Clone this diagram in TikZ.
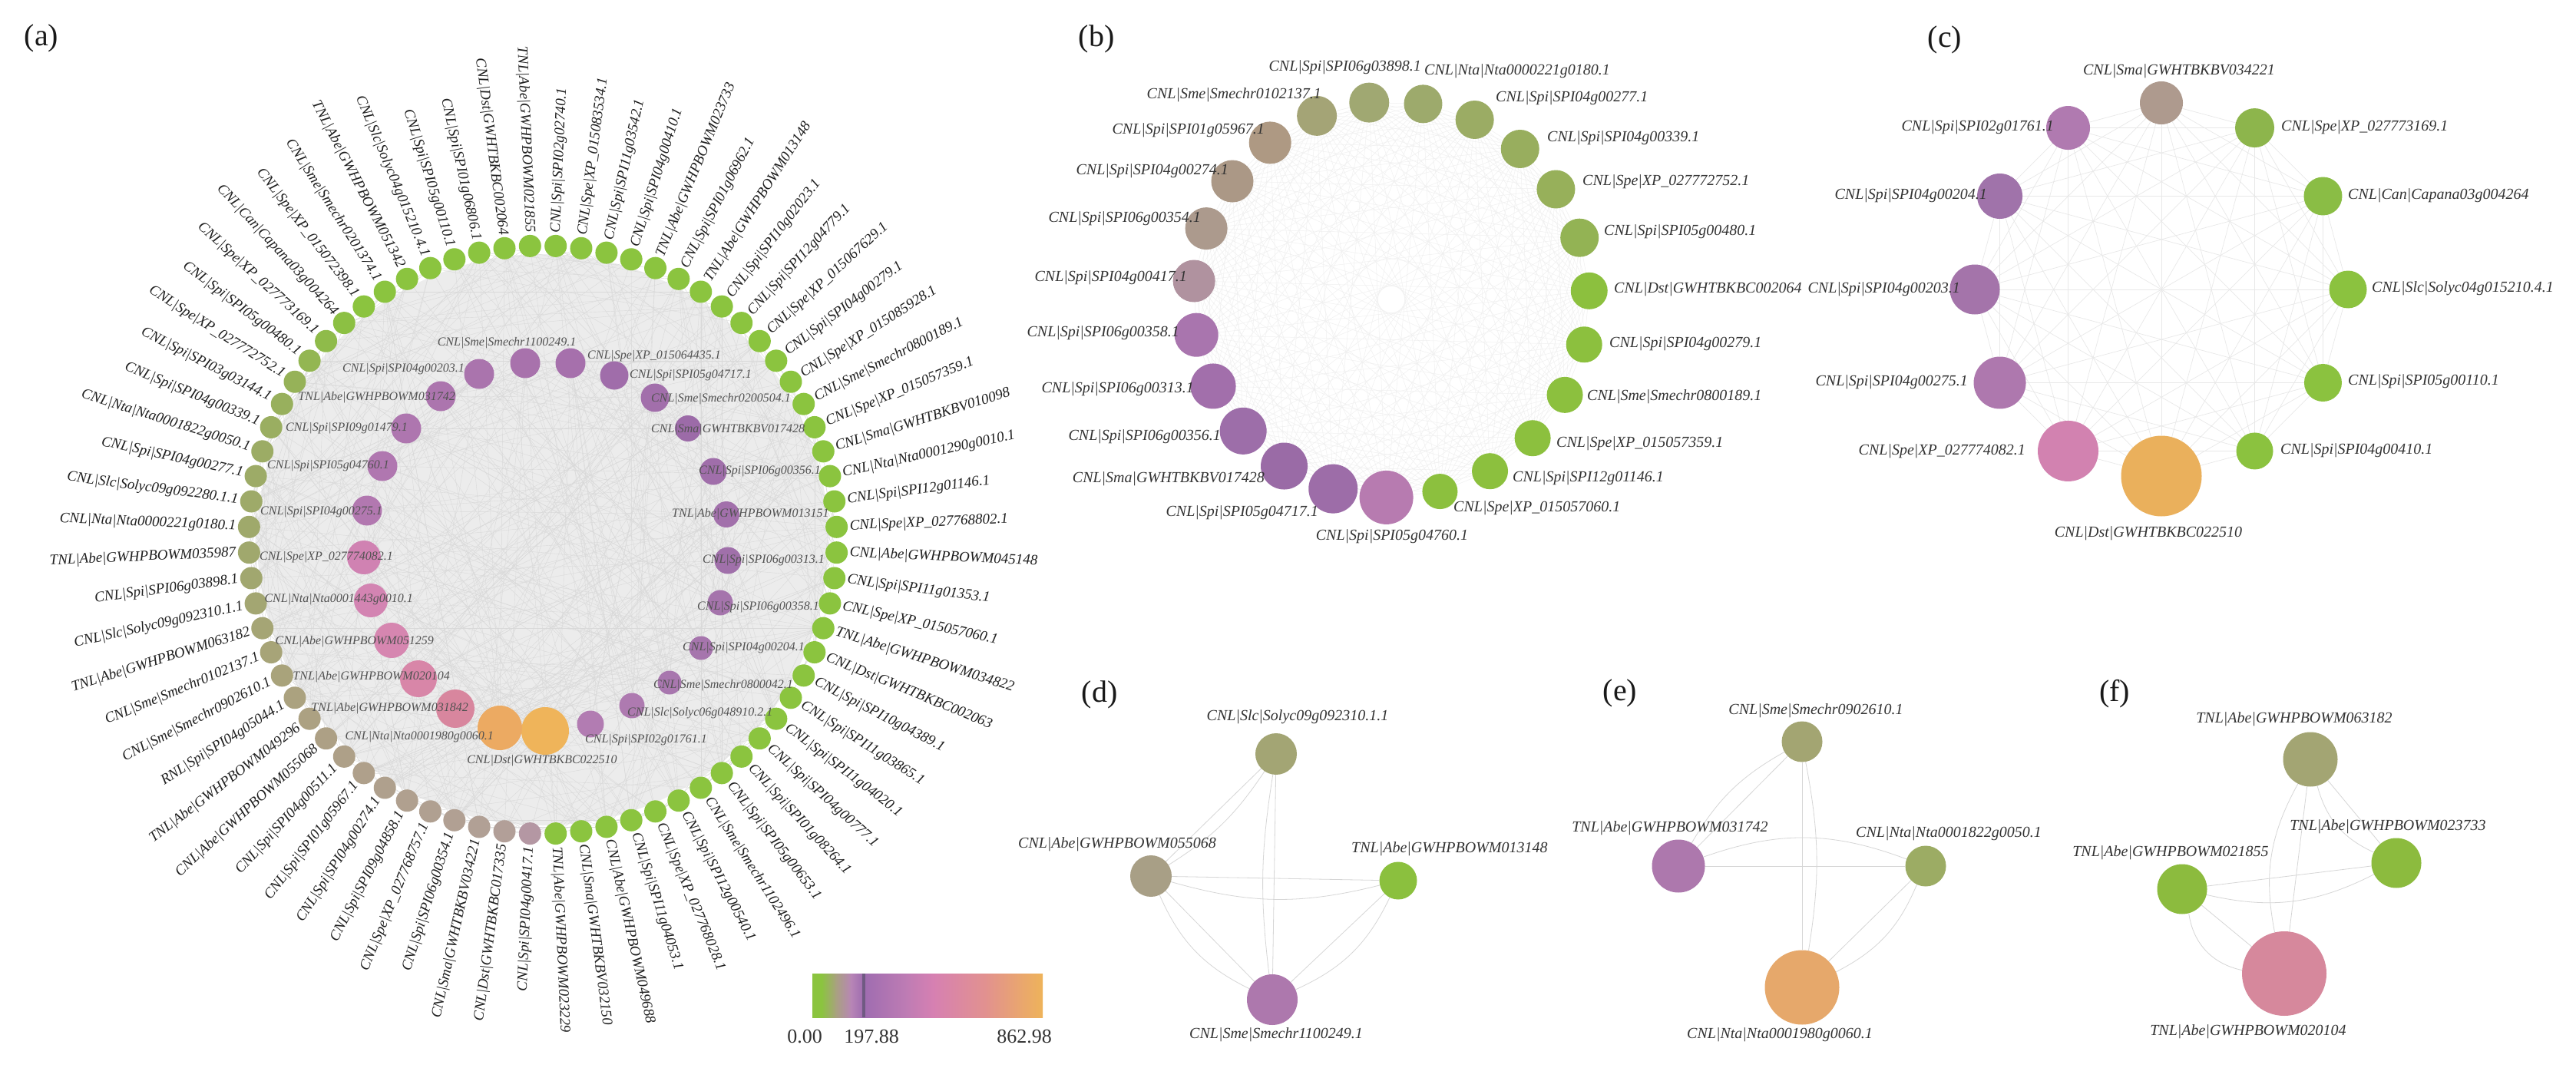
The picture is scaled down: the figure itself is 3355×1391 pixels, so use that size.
\documentclass[tikz,border=0pt]{standalone}
\usepackage{fontspec}
\setmainfont{Liberation Serif}
\pgfdeclarelayer{back}
\pgfdeclarelayer{edges}
\pgfsetlayers{back,edges,main}
\definecolor{haze}{HTML}{ECECEC}
\definecolor{cbA}{HTML}{8BC43F}
\definecolor{cbB}{HTML}{A8A27E}
\definecolor{cbC}{HTML}{B886B6}
\definecolor{cbD}{HTML}{9E6CB0}
\definecolor{cbE}{HTML}{BE7CB4}
\definecolor{cbF}{HTML}{D680B2}
\definecolor{cbG}{HTML}{E2928E}
\definecolor{cbH}{HTML}{EEB35A}
\definecolor{cbline}{HTML}{6F5A82}
\tikzset{
  onode/.style={circle, inner sep=0, minimum size=29, draw=none},
  olab/.style={inner sep=0, font=\fontsize{19}{22}\selectfont\itshape, text=black!88},
  inode/.style={circle, inner sep=0, draw=none},
  ilab/.style={inner sep=0, font=\fontsize{16}{18}\selectfont\itshape, text=black!68},
  plab/.style={inner sep=0, font=\fontsize{20}{24}\selectfont\itshape, text=black!80},
  ptitle/.style={inner sep=0, font=\fontsize{40}{44}\selectfont, text=black!90},
  nlab/.style={inner sep=0, font=\fontsize{26}{30}\selectfont, text=black!80},
  aedge/.style={draw=black!15, line width=0.4},
  bedge/.style={draw=black!6, line width=0.5},
  cedge/.style={draw=black!9, line width=0.7},
  dedge/.style={draw=black!16, line width=0.8},
}
\begin{document}
\begin{tikzpicture}[x=1pt,y=-1pt]
\useasboundingbox (0,0) rectangle (3355,1391);
\begin{pgfonlayer}{back}
\fill[white] (0,0) rectangle (3355,1391);
\end{pgfonlayer}

% ---------------- panel titles ----------------
\node[ptitle] (ta) at (54,50) {(a)};
\node[ptitle] (tb) at (1428,51) {(b)};
\node[ptitle] (tc) at (2533,52) {(c)};
\node[ptitle] (td) at (1432,905) {(d)};
\node[ptitle] (te) at (2110,903) {(e)};
\node[ptitle] (tf) at (2754,904) {(f)};

% ---------------- panel (a): outer ring ----------------
\foreach \kk/\col/\lab in {
0/8BC43F/CNL|Spi|SPI02g02740.1,
1/8BC43F/CNL|Spe|XP\_015083534.1,
2/8BC43F/CNL|Spi|SPI11g03542.1,
3/8BC43F/CNL|Spi|SPI04g00410.1,
4/8BC43F/TNL|Abe|GWHPBOWM023733,
5/8BC43F/CNL|Spi|SPI01g06962.1,
6/8BC43F/TNL|Abe|GWHPBOWM013148,
7/8BC43F/CNL|Spi|SPI10g02023.1,
8/8BC43F/CNL|Spi|SPI12g04779.1,
9/8BC43F/CNL|Spe|XP\_015067629.1,
10/8BC43F/CNL|Spi|SPI04g00279.1,
11/8BC43F/CNL|Spe|XP\_015085928.1,
12/8BC43F/CNL|Sme|Smechr0800189.1,
13/8BC43F/CNL|Spe|XP\_015057359.1,
14/8BC43F/CNL|Sma|GWHTBKBV010098,
15/8BC43F/CNL|Nta|Nta0001290g0010.1,
16/8BC43F/CNL|Spi|SPI12g01146.1,
17/8BC43F/CNL|Spe|XP\_027768802.1,
18/8BC43F/CNL|Abe|GWHPBOWM045148,
19/8BC43F/CNL|Spi|SPI11g01353.1,
20/8BC43F/CNL|Spe|XP\_015057060.1,
21/8BC43F/TNL|Abe|GWHPBOWM034822,
22/8BC43F/CNL|Dst|GWHTBKBC002063,
23/8BC43F/CNL|Spi|SPI10g04389.1,
24/8BC43F/CNL|Spi|SPI11g03865.1,
25/8BC43F/CNL|Spi|SPI11g04020.1,
26/8BC43F/CNL|Spi|SPI04g00777.1,
27/8BC43F/CNL|Spi|SPI01g08264.1,
28/8BC43F/CNL|Spi|SPI05g00653.1,
29/8BC43F/CNL|Sme|Smechr1102496.1,
30/8BC43F/CNL|Spi|SPI12g00540.1,
31/8BC43F/CNL|Spe|XP\_027768028.1,
32/8BC43F/CNL|Spi|SPI11g04053.1,
33/8BC43F/CNL|Abe|GWHPBOWM049688,
34/8BC43F/CNL|Sma|GWHTBKBV032150,
35/8BC43F/TNL|Abe|GWHPBOWM023229,
36/B497A3/CNL|Spi|SPI04g00417.1,
37/B29F98/CNL|Dst|GWHTBKBC017335,
38/B1A095/CNL|Sma|GWHTBKBV034221,
39/B1A093/CNL|Spi|SPI06g00354.1,
40/B0A091/CNL|Spe|XP\_027768757.1,
41/B0A08F/CNL|Spi|SPI09g04858.1,
42/AFA08D/CNL|Spi|SPI04g00274.1,
43/AFA08B/CNL|Spi|SPI01g05967.1,
44/AEA088/CNL|Spi|SPI04g00511.1,
45/ADA085/CNL|Abe|GWHPBOWM055068,
46/ACA182/TNL|Abe|GWHPBOWM049296,
47/ABA27F/RNL|Spi|SPI04g05044.1,
48/A9A37B/CNL|Sme|Smechr0902610.1,
49/A7A478/CNL|Sme|Smechr0102137.1,
50/A5A575/TNL|Abe|GWHPBOWM063182,
51/A3A672/CNL|Slc|Solyc09g092310.1.1,
52/A1A76F/CNL|Spi|SPI06g03898.1,
53/A0A86D/TNL|Abe|GWHPBOWM035987,
54/9FA96B/CNL|Nta|Nta0000221g0180.1,
55/9EAA69/CNL|Slc|Solyc09g092280.1.1,
56/9DAB67/CNL|Spi|SPI04g00277.1,
57/9CAC65/CNL|Nta|Nta0001822g0050.1,
58/9AAE61/CNL|Spi|SPI04g00339.1,
59/98B05D/CNL|Spi|SPI03g03144.1,
60/96B258/CNL|Spe|XP\_027772752.1,
61/93B652/CNL|Spi|SPI05g00480.1,
62/8FBB4A/CNL|Spe|XP\_027773169.1,
63/8CC043/CNL|Can|Capana03g004264,
64/8BC43F/CNL|Spe|XP\_015072398.1,
65/8BC43F/CNL|Sme|Smechr0201374.1,
66/8BC43F/TNL|Abe|GWHPBOWM051342,
67/8BC43F/CNL|Slc|Solyc04g015210.4.1,
68/8BC43F/CNL|Spi|SPI05g00110.1,
69/8BC43F/CNL|Spi|SPI01g06806.1,
70/8BC43F/CNL|Dst|GWHTBKBC002064,
71/8BC43F/TNL|Abe|GWHPBOWM021855}{
  \pgfmathsetmacro\ang{87.5-5*\kk}
  \definecolor{nc}{HTML}{\col}
  \node[onode, fill=nc] (o\kk) at ({707+383*cos(\ang)},{703-383*sin(\ang)}) {};
  \ifnum\kk<36\relax
    \node[olab, anchor=west, rotate=\ang] (ol\kk) at ({707+400*cos(\ang)},{703-400*sin(\ang)}) {\lab};
  \else
    \pgfmathsetmacro\rot{\ang+180}
    \node[olab, anchor=east, rotate=\rot] (ol\kk) at ({707+400*cos(\ang)},{703-400*sin(\ang)}) {\lab};
  \fi
}

% ---------------- panel (a): inner ring ----------------
\foreach \nn/\xx/\yy/\sz/\col in {
1/478/665/39/B278B0, 2/498/607/39/B077B0, 3/529/558/39/AE76AF,
4/574/516/39/AC75AE, 5/624/487/39/AA74AD, 6/684/473/39/A872AC,
7/743/473/39/A670AC, 8/800/489/37/A06DAA, 9/853/518/37/A26FAB,
10/896/558/34/9C6BA8, 11/929/614/35/A06EAA, 12/946/670/34/A270AB,
13/948/730/35/A070AA, 14/938/785/33/A574AC, 15/913/844/31/A675AD,
16/872/889/31/A877AE, 17/823/919/33/AE7AB0, 18/769/943/35/B27CB2,
19/710/952/62/EFB45A, 20/651/948/58/ECAA62, 21/593/923/50/D8869E,
22/545/884/48/D886A8, 23/510/834/46/D686B0, 24/483/782/44/D384B2,
25/474/726/44/D082B2}{
  \definecolor{nc}{HTML}{\col}
  \node[inode, minimum size=\sz, fill=nc] (n\nn) at (\xx,\yy) {};
}
\node[ilab, anchor=east] at (498,667) {CNL|Spi|SPI04g00275.1};
\node[ilab, anchor=east] at (507,607) {CNL|Spi|SPI05g04760.1};
\node[ilab, anchor=east] at (531,558) {CNL|Spi|SPI09g01479.1};
\node[ilab, anchor=east] at (593,518) {TNL|Abe|GWHPBOWM031742};
\node[ilab, anchor=east] at (605,481) {CNL|Spi|SPI04g00203.1};
\node[ilab] at (660,447) {CNL|Sme|Smechr1100249.1};
\node[ilab, anchor=west] at (765,464) {CNL|Spe|XP\_015064435.1};
\node[ilab, anchor=west] at (820,489) {CNL|Spi|SPI05g04717.1};
\node[ilab, anchor=west] at (848,520) {CNL|Sme|Smechr0200504.1};
\node[ilab, anchor=west] at (848,560) {CNL|Sma|GWHTBKBV017428};
\node[ilab, anchor=west] at (910,614) {CNL|Spi|SPI06g00356.1};
\node[ilab, anchor=west] at (875,670) {TNL|Abe|GWHPBOWM013151};
\node[ilab, anchor=west] at (915,730) {CNL|Spi|SPI06g00313.1};
\node[ilab, anchor=west] at (908,791) {CNL|Spi|SPI06g00358.1};
\node[ilab, anchor=west] at (889,844) {CNL|Spi|SPI04g00204.1};
\node[ilab, anchor=west] at (851,893) {CNL|Sme|Smechr0800042.1};
\node[ilab, anchor=west] at (817,929) {CNL|Slc|Solyc06g048910.2.1};
\node[ilab, anchor=west] at (762,964) {CNL|Spi|SPI02g01761.1};
\node[ilab] at (706,991) {CNL|Dst|GWHTBKBC022510};
\node[ilab, anchor=east] at (643,960) {CNL|Nta|Nta0001980g0060.1};
\node[ilab, anchor=east] at (610,923) {TNL|Abe|GWHPBOWM031842};
\node[ilab, anchor=east] at (586,882) {TNL|Abe|GWHPBOWM020104};
\node[ilab, anchor=east] at (565,836) {CNL|Abe|GWHPBOWM051259};
\node[ilab, anchor=east] at (538,781) {CNL|Nta|Nta0001443g0010.1};
\node[ilab, anchor=east] at (512,726) {CNL|Spe|XP\_027774082.1};

% ---------------- colour bar ----------------
\shade[left color=cbA, right color=cbA] (1058,1268) rectangle (1071,1325);
\shade[left color=cbA, right color=cbB] (1070,1268) rectangle (1089,1325);
\shade[left color=cbB, right color=cbC] (1088,1268) rectangle (1109,1325);
\shade[left color=cbC, right color=cbD] (1108,1268) rectangle (1125,1325);
\shade[left color=cbD, right color=cbE] (1124,1268) rectangle (1181,1325);
\shade[left color=cbE, right color=cbF] (1180,1268) rectangle (1216,1325);
\shade[left color=cbF, right color=cbG] (1215,1268) rectangle (1286,1325);
\shade[left color=cbG, right color=cbH] (1285,1268) rectangle (1358,1325);
\fill[cbline] (1122.5,1268) rectangle (1126.5,1325);
\node[nlab] (v0) at (1048,1350) {0.00};
\node[nlab] (v1) at (1135,1350) {197.88};
\node[nlab] (v2) at (1334,1350) {862.98};

% ---------------- panel (b) ----------------
\foreach \kk/\sz/\col in {0/52/A0A872, 1/50/9DAA6C, 2/50/9BAC64, 3/50/98AE5E,
  4/50/97B05A, 5/50/93B354, 6/48/8CC03E, 7/47/8CC03E, 8/47/8CC03E, 9/47/8CC03E,
  10/47/8CC03E, 11/46/8CC03E, 12/70/B77BB0, 13/64/9D6DA8, 14/61/9A6BA6,
  15/61/9D6EA9, 16/59/A26FAB, 17/57/A975AE, 18/55/B0929F, 19/55/AC9A8D,
  20/55/AB9886, 21/55/AE9983, 22/52/A4A476}{
  \pgfmathsetmacro\ang{96.4-15.652*\kk}
  \definecolor{nc}{HTML}{\col}
  \node[inode, minimum size=\sz, fill=nc] (b\kk) at ({1812+258*cos(\ang)},{390-258*sin(\ang)}) {};
}
\node[plab, anchor=east] at (1851,88) {CNL|Spi|SPI06g03898.1};
\node[plab, anchor=west] at (1855,93) {CNL|Nta|Nta0000221g0180.1};
\node[plab, anchor=west] at (1948,128) {CNL|Spi|SPI04g00277.1};
\node[plab, anchor=west] at (2015,180) {CNL|Spi|SPI04g00339.1};
\node[plab, anchor=west] at (2061,237) {CNL|Spe|XP\_027772752.1};
\node[plab, anchor=west] at (2089,302) {CNL|Spi|SPI05g00480.1};
\node[plab, anchor=west] at (2102,377) {CNL|Dst|GWHTBKBC002064};
\node[plab, anchor=west] at (2096,448) {CNL|Spi|SPI04g00279.1};
\node[plab, anchor=west] at (2067,517) {CNL|Sme|Smechr0800189.1};
\node[plab, anchor=west] at (2027,578) {CNL|Spe|XP\_015057359.1};
\node[plab, anchor=west] at (1970,623) {CNL|Spi|SPI12g01146.1};
\node[plab, anchor=west] at (1893,662) {CNL|Spe|XP\_015057060.1};
\node[plab] at (1813,699) {CNL|Spi|SPI05g04760.1};
\node[plab, anchor=east] at (1717,668) {CNL|Spi|SPI05g04717.1};
\node[plab, anchor=east] at (1647,624) {CNL|Sma|GWHTBKBV017428};
\node[plab, anchor=east] at (1590,569) {CNL|Spi|SPI06g00356.1};
\node[plab, anchor=east] at (1555,507) {CNL|Spi|SPI06g00313.1};
\node[plab, anchor=east] at (1536,434) {CNL|Spi|SPI06g00358.1};
\node[plab, anchor=east] at (1546,362) {CNL|Spi|SPI04g00417.1};
\node[plab, anchor=east] at (1564,285) {CNL|Spi|SPI06g00354.1};
\node[plab, anchor=east] at (1600,223) {CNL|Spi|SPI04g00274.1};
\node[plab, anchor=east] at (1647,170) {CNL|Spi|SPI01g05967.1};
\node[plab, anchor=east] at (1721,124) {CNL|Sme|Smechr0102137.1};

% ---------------- panel (c) ----------------
\foreach \kk/\sz/\col in {0/56/AE9A8E, 1/51/8DB54C, 2/50/8ABD45, 3/49/8BC23F,
  4/49/8BC23F, 5/48/8BC23F, 6/105/EAB05C, 7/79/D282B0, 8/68/AE78AE,
  9/65/A474AA, 10/59/A073AA, 11/57/B07AB0}{
  \pgfmathsetmacro\ang{90-30*\kk}
  \definecolor{nc}{HTML}{\col}
  \node[inode, minimum size=\sz, fill=nc] (c\kk) at ({2815+243*cos(\ang)},{377-243*sin(\ang)}) {};
}
\node[plab] at (2838,93) {CNL|Sma|GWHTBKBV034221};
\node[plab, anchor=west] at (2971,166) {CNL|Spe|XP\_027773169.1};
\node[plab, anchor=west] at (3058,255) {CNL|Can|Capana03g004264};
\node[plab, anchor=west] at (3089,376) {CNL|Slc|Solyc04g015210.4.1};
\node[plab, anchor=west] at (3058,497) {CNL|Spi|SPI05g00110.1};
\node[plab, anchor=west] at (2970,587) {CNL|Spi|SPI04g00410.1};
\node[plab] at (2798,695) {CNL|Dst|GWHTBKBC022510};
\node[plab, anchor=east] at (2638,588) {CNL|Spe|XP\_027774082.1};
\node[plab, anchor=east] at (2563,498) {CNL|Spi|SPI04g00275.1};
\node[plab, anchor=east] at (2553,377) {CNL|Spi|SPI04g00203.1};
\node[plab, anchor=east] at (2588,255) {CNL|Spi|SPI04g00204.1};
\node[plab, anchor=east] at (2675,166) {CNL|Spi|SPI02g01761.1};

% ---------------- panel (d) ----------------
\definecolor{dA}{HTML}{A3A574}\definecolor{dB}{HTML}{A89F86}
\definecolor{dC}{HTML}{8BC03E}\definecolor{dD}{HTML}{AD78AD}
\node[inode, minimum size=54, fill=dA] (dsol) at (1662,982) {};
\node[inode, minimum size=54, fill=dB] (dabe) at (1499,1141) {};
\node[inode, minimum size=49, fill=dC] (dtnl) at (1821,1147) {};
\node[inode, minimum size=66, fill=dD] (dsme) at (1657,1302) {};
\node[plab] at (1690,934) {CNL|Slc|Solyc09g092310.1.1};
\node[plab] at (1455,1100) {CNL|Abe|GWHPBOWM055068};
\node[plab, anchor=west] at (1760,1106) {TNL|Abe|GWHPBOWM013148};
\node[plab] at (1662,1348) {CNL|Sme|Smechr1100249.1};

% ---------------- panel (e) ----------------
\definecolor{eA}{HTML}{A3A572}\definecolor{eB}{HTML}{AD78AD}
\definecolor{eC}{HTML}{9CAC64}\definecolor{eD}{HTML}{E6A86B}
\node[inode, minimum size=53, fill=eA] (esme) at (2347,966) {};
\node[inode, minimum size=69, fill=eB] (etnl) at (2186,1128) {};
\node[inode, minimum size=53, fill=eC] (enta) at (2508,1128) {};
\node[inode, minimum size=97, fill=eD] (eora) at (2347,1286) {};
\node[plab] at (2365,926) {CNL|Sme|Smechr0902610.1};
\node[plab] at (2175,1079) {TNL|Abe|GWHPBOWM031742};
\node[plab] at (2538,1086) {CNL|Nta|Nta0001822g0050.1};
\node[plab] at (2318,1348) {CNL|Nta|Nta0001980g0060.1};

% ---------------- panel (f) ----------------
\definecolor{fA}{HTML}{A3A573}\definecolor{fB}{HTML}{8CBB3E}
\definecolor{fC}{HTML}{D6889C}
\node[inode, minimum size=71, fill=fA] (fone) at (3009,989) {};
\node[inode, minimum size=65, fill=fB] (ftwo) at (3121,1124) {};
\node[inode, minimum size=65, fill=fB] (fthr) at (2842,1158) {};
\node[inode, minimum size=110, fill=fC] (ffou) at (2975,1268) {};
\node[plab] at (2988,937) {TNL|Abe|GWHPBOWM063182};
\node[plab] at (3110,1077) {TNL|Abe|GWHPBOWM023733};
\node[plab] at (2827,1111) {TNL|Abe|GWHPBOWM021855};
\node[plab] at (2928,1344) {TNL|Abe|GWHPBOWM020104};

% ---------------- edges ----------------
\begin{pgfonlayer}{edges}
\fill[haze] (707,703) circle (372);
\pgfmathsetseed{11}
\foreach \m in {1,...,260}{
  \pgfmathtruncatemacro\ia{random(0,71)}
  \pgfmathtruncatemacro\ib{random(0,71)}
  \ifnum\ia=\ib\relax\else\draw[aedge] (o\ia) -- (o\ib);\fi
}
\foreach \m in {1,...,200}{
  \pgfmathtruncatemacro\ia{random(0,71)}
  \pgfmathtruncatemacro\ib{random(1,25)}
  \draw[aedge] (o\ia) -- (n\ib);
}
\foreach \m in {1,...,60}{
  \pgfmathtruncatemacro\ia{random(1,25)}
  \pgfmathtruncatemacro\ib{random(1,25)}
  \ifnum\ia=\ib\relax\else\draw[aedge] (n\ia) -- (n\ib);\fi
}
\foreach \i in {0,...,21}{
  \pgfmathtruncatemacro\st{\i+1}
  \foreach \j in {\st,...,22}{\draw[bedge] (b\i) -- (b\j);}
}
\foreach \i in {0,...,10}{
  \pgfmathtruncatemacro\st{\i+1}
  \foreach \j in {\st,...,11}{\draw[cedge] (c\i) -- (c\j);}
}
% (d)
\draw[dedge] (dabe) -- (dtnl);
\draw[dedge] (dabe) to[bend right=15] (dtnl);
\draw[dedge] (dsol) -- (dabe);
\draw[dedge] (dsol) to[bend left=12] (dabe);
\draw[dedge] (dsol) -- (dsme);
\draw[dedge] (dsol) to[bend right=8] (dsme);
\draw[dedge] (dabe) -- (dsme);
\draw[dedge] (dabe) to[bend right=20] (dsme);
\draw[dedge] (dtnl) -- (dsme);
\draw[dedge] (dtnl) to[bend left=20] (dsme);
% (e)
\draw[dedge] (etnl) -- (enta);
\draw[dedge] (etnl) to[bend left=20] (enta);
\draw[dedge] (esme) -- (etnl);
\draw[dedge] (esme) to[bend right=15] (etnl);
\draw[dedge] (esme) -- (eora);
\draw[dedge] (esme) to[bend left=10] (eora);
\draw[dedge] (enta) -- (eora);
\draw[dedge] (enta) to[bend left=20] (eora);
% (f)
\draw[dedge] (fone) -- (ffou);
\draw[dedge] (fone) to[bend right=20] (ffou);
\draw[dedge] (fone) -- (ftwo);
\draw[dedge] (fone) to[bend right=25] (ftwo);
\draw[dedge] (fthr) -- (ftwo);
\draw[dedge] (fthr) to[bend right=20] (ftwo);
\draw[dedge] (fthr) -- (ffou);
\draw[dedge] (fthr) to[bend right=35] (ffou);
\end{pgfonlayer}
\end{tikzpicture}
\end{document}
